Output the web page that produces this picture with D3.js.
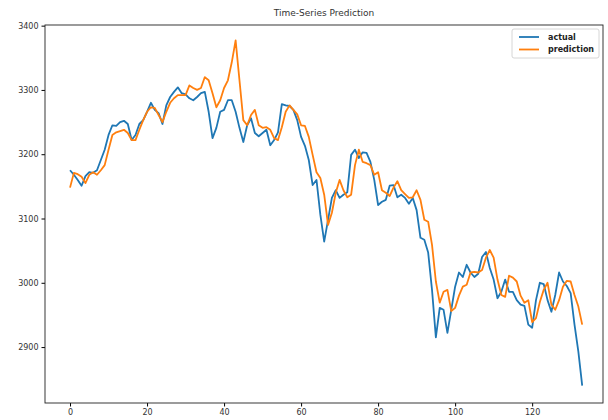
<!DOCTYPE html>
<html>
<head>
<meta charset="utf-8">
<script src="https://cdn.jsdelivr.net/npm/d3@7"></script>
<style>
  body { margin: 0; background: #fff; }
  text { font-family: "DejaVu Sans", sans-serif; }
</style>
</head>
<body>
<div id="chart"></div>
<script>
// values
const actual = [
  3175, 3168, 3160, 3151, 3166, 3172, 3171, 3175, 3191, 3207,
  3230, 3245, 3244, 3250, 3252, 3247, 3222, 3230, 3247, 3253,
  3266, 3280, 3269, 3264, 3247, 3276, 3289, 3297, 3304, 3295,
  3293, 3287, 3284, 3289, 3295, 3297, 3266, 3225, 3241, 3266,
  3269, 3284, 3284, 3266, 3241, 3219, 3245, 3256, 3233, 3228,
  3233, 3238, 3214, 3222, 3234, 3278, 3276, 3275, 3269, 3253,
  3227, 3213, 3191, 3152, 3160, 3106, 3064, 3098, 3132, 3144,
  3132, 3137, 3141, 3199, 3207, 3194, 3203, 3202, 3188, 3160,
  3121, 3126, 3129, 3151, 3152, 3133, 3137, 3132, 3123, 3132,
  3113, 3070, 3067, 3047, 2989, 2915, 2961, 2958, 2922, 2958,
  2994, 3016, 3009, 3028, 3016, 3009, 3014, 3040, 3048, 3023,
  3005, 2976, 2986, 3005, 2986, 2986, 2973, 2966, 2964, 2935,
  2930, 2973, 3000, 2998, 2973, 2955, 2981, 3016, 3002, 2995,
  2984, 2935, 2893, 2840
];
const prediction = [
  3148, 3171, 3169, 3165, 3155, 3168, 3172, 3168, 3175, 3183,
  3207, 3230, 3234, 3236, 3238, 3233, 3222, 3222, 3238, 3253,
  3266, 3273, 3272, 3261, 3250, 3266, 3280, 3287, 3292, 3292,
  3292, 3307, 3303, 3300, 3303, 3320, 3315, 3295, 3273, 3284,
  3303, 3315, 3343, 3377, 3315, 3253, 3245, 3261, 3269, 3245,
  3241, 3242, 3238, 3225, 3222, 3242, 3266, 3276, 3269, 3262,
  3245, 3244, 3227, 3199, 3172, 3163, 3137, 3090, 3109, 3140,
  3160, 3144, 3133, 3137, 3183, 3207, 3188, 3186, 3183, 3168,
  3172, 3144, 3140, 3135, 3148, 3158, 3144, 3138, 3132, 3133,
  3144, 3129, 3098, 3095, 3059, 3002, 2969, 2986, 2989, 2956,
  2961, 2980, 2994, 2997, 3016, 3017, 3016, 3020, 3039, 3051,
  3039, 3005, 2981, 2978, 3011, 3008, 3002, 2980, 2969, 2973,
  2939, 2945, 2970, 2989, 3000, 2966, 2958, 2973, 2994, 3003,
  3002, 2981, 2963, 2935
];
const seriesNames = ['actual', 'prediction'];
const seriesColors = ['#1f77b4', '#ff7f0e'];
const xTicks = [0, 20, 40, 60, 80, 100, 120];
const yTicks = [2900, 3000, 3100, 3200, 3300, 3400];
const title = 'Time-Series Prediction';

const width = 608;
const height = 420;
const margin = { top: 25, right: 5, bottom: 17, left: 45 };

const svg = d3.select('#chart')
  .append('svg')
  .attr('width', width)
  .attr('height', height);

const x = d3.scaleLinear()
  .domain([-6.5, 138.4])
  .range([margin.left, width - margin.right]);

const y = d3.scaleLinear()
  .domain([2813, 3401])
  .range([height - margin.bottom, margin.top]);

svg.append('text')
  .attr('x', (margin.left + width - margin.right) / 2)
  .attr('y', 16)
  .attr('text-anchor', 'middle')
  .attr('font-size', '9px')
  .attr('fill', '#333')
  .text(title);

const series = [actual, prediction];
const line = d3.line()
  .x((d, i) => x(i))
  .y(d => y(d));

svg.append('g')
  .selectAll('path')
  .data(series)
  .join('path')
    .attr('fill', 'none')
    .attr('stroke', (d, i) => seriesColors[i])
    .attr('stroke-width', 1.8)
    .attr('stroke-linejoin', 'round')
    .attr('d', line);

function yAxis(g) {
  g.attr('transform', `translate(${margin.left},0)`)
    .call(d3.axisLeft(y).tickValues(yTicks).tickFormat(d3.format('d')).tickSize(3.5).tickPadding(3))
    .attr('font-size', '8px')
    .call(g => g.select('.domain').remove());
  g.selectAll('text').attr('fill', '#333').attr('font-family', '"DejaVu Sans", sans-serif');
}

function xAxis(g) {
  g.attr('transform', `translate(0,${height - margin.bottom})`)
    .call(d3.axisBottom(x).tickValues(xTicks).tickFormat(d3.format('d')).tickSize(3.5).tickPadding(3))
    .attr('font-size', '8px')
    .call(g => g.select('.domain').remove());
  g.selectAll('text').attr('fill', '#333').attr('font-family', '"DejaVu Sans", sans-serif');
}

svg.append('g').call(xAxis);
svg.append('g').call(yAxis);

// axes frame
svg.append('rect')
  .attr('x', margin.left)
  .attr('y', margin.top)
  .attr('width', width - margin.left - margin.right)
  .attr('height', height - margin.top - margin.bottom)
  .attr('fill', 'none')
  .attr('stroke', '#222')
  .attr('stroke-width', 0.9);

// legend
const legend = svg.append('g')
  .attr('transform', `translate(${width - margin.right - 91},${margin.top + 4})`);

legend.append('rect')
  .attr('width', 87)
  .attr('height', 29)
  .attr('rx', 2)
  .attr('fill', '#fff')
  .attr('fill-opacity', 0.8)
  .attr('stroke', '#ccc')
  .attr('stroke-width', 0.8);

const item = legend.selectAll('g.item')
  .data(seriesNames)
  .join('g')
    .attr('class', 'item')
    .attr('transform', (d, i) => `translate(7,${8 + i * 12.5})`);

item.append('line')
  .attr('x1', 0)
  .attr('x2', 20)
  .attr('stroke', (d, i) => seriesColors[i])
  .attr('stroke-width', 1.8);

item.append('text')
  .attr('x', 29)
  .attr('dy', '0.35em')
  .attr('font-size', '8px')
  .attr('font-weight', 'bold')
  .attr('fill', '#222')
  .text(d => d);
</script>
</body>
</html>
